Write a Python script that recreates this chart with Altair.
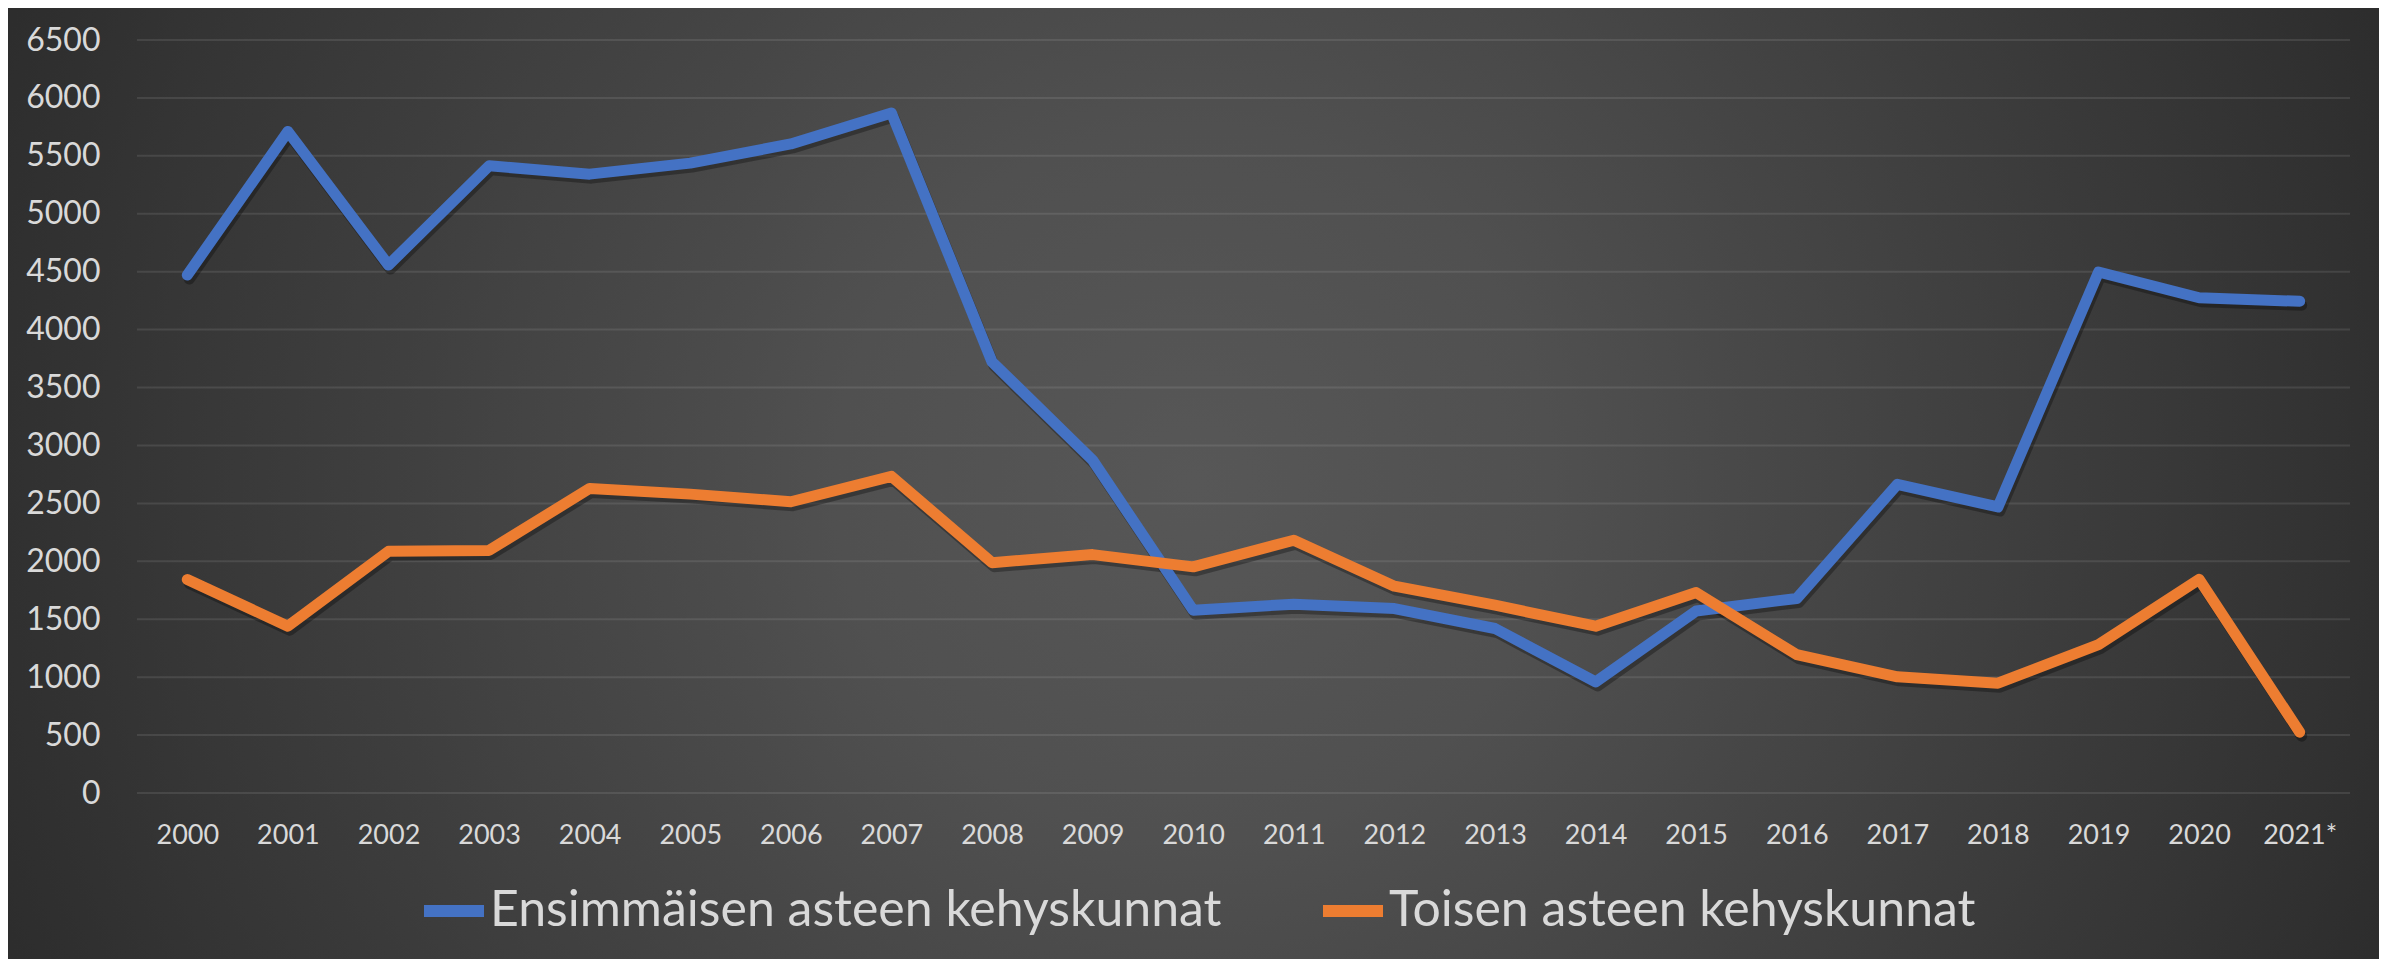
import altair as alt
import pandas as pd

years = ["2000", "2001", "2002", "2003", "2004", "2005", "2006", "2007", "2008", "2009",
         "2010", "2011", "2012", "2013", "2014", "2015", "2016", "2017", "2018", "2019",
         "2020", "2021*"]
ensimmaisen = [4471, 5710, 4557, 5414, 5342, 5437, 5603, 5870, 3722, 2873,
               1578, 1630, 1592, 1420, 959, 1571, 1679, 2664, 2469, 4497,
               4275, 4244]
toisen = [1842, 1440, 2086, 2094, 2629, 2580, 2514, 2733, 1988, 2058,
          1952, 2182, 1785, 1621, 1440, 1730, 1194, 1003, 948, 1281,
          1845, 525]
series_names = ["Ensimmäisen asteen kehyskunnat", "Toisen asteen kehyskunnat"]
series_colors = ["#4472C4", "#ED7D31"]
y_ticks = [0, 500, 1000, 1500, 2000, 2500, 3000, 3500, 4000, 4500, 5000, 5500, 6000, 6500]

rows = []
for name, vals in zip(series_names, [ensimmaisen, toisen]):
    for yr, v in zip(years, vals):
        rows.append({"year": yr, "value": v, "series": name})
df = pd.DataFrame(rows)
grid_df = pd.DataFrame({"v": y_ticks})
bg_df = pd.DataFrame({"b": [0]})

W, H = 2213, 753
PAD = {"left": 129, "top": 32, "right": 29, "bottom": 166}
FONT = "Lato"
TEXT = "#d9d9d9"

y_scale = alt.Scale(domain=[0, 6500], nice=False, zero=True)
y_axis = alt.Axis(values=y_ticks, format="d", title=None, grid=False, ticks=False, tickSize=0,
                  domain=False, labelFont=FONT, labelFontSize=32, labelColor=TEXT,
                  labelPadding=37, zindex=1)
x_enc = alt.X("year:N", sort=years, scale=alt.Scale(type="point", padding=0.5),
              axis=alt.Axis(title=None, grid=False, ticks=False, tickSize=0, domain=False,
                            labelAngle=0, labelFont=FONT, labelFontSize=27, labelColor=TEXT,
                            labelPadding=29, zindex=1))

gradient = {
    "gradient": "radial",
    "x1": 0.5, "y1": 0.5, "r1": 0,
    "x2": 0.5, "y2": 0.5, "r2": 0.5,
    "stops": [
        {"offset": 0.0, "color": "#575757"},
        {"offset": 0.25, "color": "#505050"},
        {"offset": 1.0, "color": "#272727"},
    ],
}

full_h = PAD["top"] + H + PAD["bottom"]
bg = alt.Chart(bg_df).mark_rect(fill=gradient, strokeWidth=0).encode(
    x=alt.value(-PAD["left"]), x2=alt.value(W + PAD["right"]),
    y=alt.value(-PAD["top"] - full_h), y2=alt.value(H + PAD["bottom"] + full_h),
)

grid = alt.Chart(grid_df).mark_rule(color="#d9d9d9", opacity=0.12, strokeWidth=2).encode(
    y=alt.Y("v:Q", scale=y_scale, axis=y_axis)
)

shadow = alt.Chart(df).mark_line(color="black", opacity=0.3, strokeWidth=11, strokeCap="round",
                                 strokeJoin="round", xOffset=2, yOffset=4).encode(
    x=x_enc,
    y=alt.Y("value:Q", scale=y_scale, axis=y_axis),
    detail="series:N",
)

lines = alt.Chart(df).mark_line(strokeWidth=11, strokeCap="round", strokeJoin="round").encode(
    x=x_enc,
    y=alt.Y("value:Q", scale=y_scale, axis=y_axis),
    color=alt.Color("series:N", sort=series_names,
                    scale=alt.Scale(domain=series_names, range=series_colors),
                    legend=alt.Legend(orient="none", legendX=281, legendY=835, direction="horizontal",
                                      title=None, labelFont=FONT, labelFontSize=50, labelColor=TEXT,
                                      labelLimit=2000, symbolType="stroke", symbolStrokeWidth=12,
                                      symbolSize=3600, labelOffset=0, columnPadding=77, padding=0)),
)

chart = alt.layer(bg, grid, shadow, lines).properties(
    width=W, height=H, padding=PAD,
    autosize=alt.AutoSizeParams(type="none"),
    background="#272727",
).configure_view(stroke=None)

chart.save("out.html", embed_options={"renderer": "svg", "actions": False})
